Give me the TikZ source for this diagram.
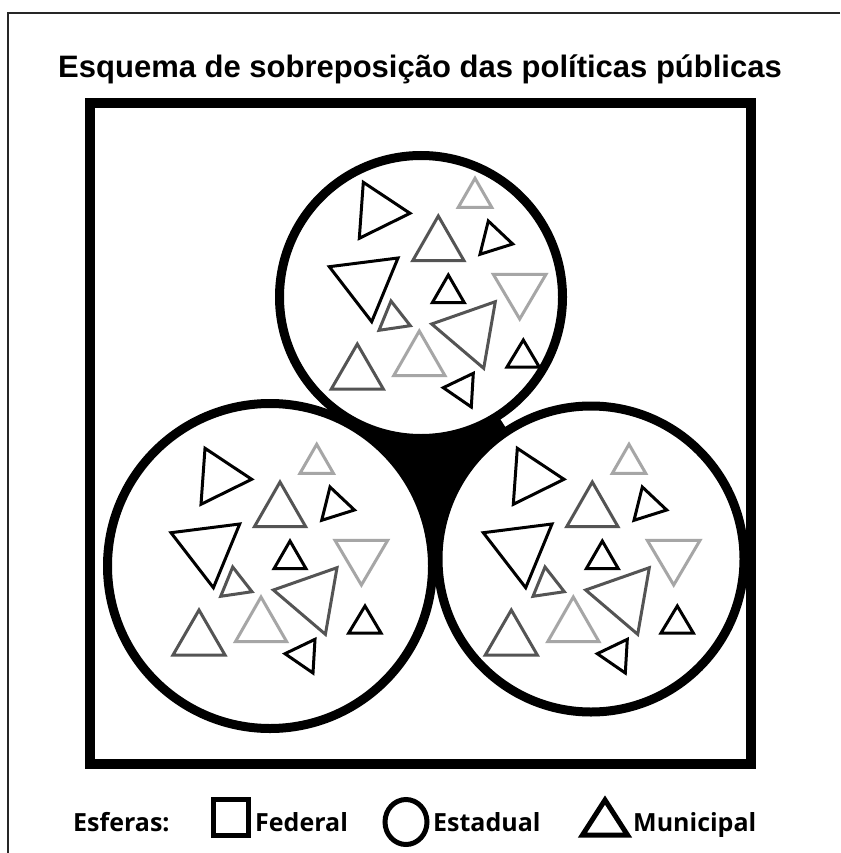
\documentclass[tikz,border=0pt]{standalone}
\usepackage{fontspec}
\newfontfamily\titlefont{Liberation Sans}[BoldFont={Liberation Sans Bold}]
\newfontfamily\legfont{Open Sans}[BoldFont={Open Sans Bold}]
\begin{document}
\begin{tikzpicture}[x=1pt,y=-1pt,
  tb/.style={draw=black,line width=3pt,line join=miter},
  td/.style={draw=black!67,line width=3pt,line join=miter},
  tl/.style={draw=black!35,line width=3pt,line join=miter},
  bigring/.style={draw=black,line width=9pt},
  legsym/.style={draw=black,line width=5pt,line join=miter},
  legtext/.style={anchor=base west,inner sep=0pt,font=\legfont\bfseries\fontsize{25}{30}\selectfont}]
\useasboundingbox (0,0) rectangle (840,853);
\fill[white] (0,0) rectangle (840,853);
% outer thin frame
\draw[line width=1.5pt,black!85] (840,13) -- (8,13) -- (8,853);
% title
\node[anchor=base,inner sep=0pt,font=\titlefont\bfseries\fontsize{31}{36}\selectfont] (title) at (420,78) {Esquema de sobreposição das políticas públicas};
% thick square (Federal)
\draw[line width=10pt] (90,103) rectangle (751,764);
% gap between circles
\fill[black] (421,297) -- (270,566) -- (591,559) -- cycle;
\fill[white] (421,297) circle[radius=141.5pt];
\fill[white] (270,566) circle[radius=162.5pt];
\fill[white] (591,559) circle[radius=153pt];
\draw[bigring] (421,297) circle[radius=141.5pt];
\draw[bigring] (270,566) circle[radius=162.5pt];
\draw[bigring] (591,559) circle[radius=153pt];
% triangle pattern
\newcommand\mytrigroup{%
  \draw[tb] (363.3,182.3) -- (410,213.3) -- (359.3,238.3) -- cycle;
  \draw[tl] (475,178.3) -- (491.7,207.3) -- (458.3,207.3) -- cycle;
  \draw[td] (438.3,216) -- (464,260.7) -- (412.7,260.7) -- cycle;
  \draw[tb] (488.3,221) -- (512.7,244) -- (480,254.3) -- cycle;
  \draw[tb] (329.3,266.7) -- (398,258) -- (371.7,321.7) -- cycle;
  \draw[tb] (448.3,275) -- (464.3,302.7) -- (432.3,302.7) -- cycle;
  \draw[tl] (493.3,274.3) -- (546,274.3) -- (519.7,319) -- cycle;
  \draw[td] (391,301) -- (410.3,325.7) -- (379,330.3) -- cycle;
  \draw[td] (431.7,324) -- (495.3,301.7) -- (483.7,368.3) -- cycle;
  \draw[tb] (523.3,340) -- (539.3,367) -- (507,367) -- cycle;
  \draw[td] (357.3,344) -- (383.3,389) -- (331.3,389) -- cycle;
  \draw[tl] (419.3,331) -- (445,375.7) -- (393.7,375.7) -- cycle;
  \draw[tb] (473.3,373.3) -- (471.3,407) -- (443.3,387.7) -- cycle;
}
\mytrigroup
\begin{scope}[shift={(-158.3,266)}]\mytrigroup\end{scope}
\begin{scope}[shift={(154,266)}]\mytrigroup\end{scope}
% legend
\node[legtext] (esf) at (73,831) {Esferas:};
\draw[legsym] (213.5,799.5) rectangle (248.5,835.5);
\node[legtext] (fed) at (255,831) {Federal};
\draw[legsym] (406,822) ellipse[x radius=21pt,y radius=22.5pt];
\node[legtext] (est) at (433,831) {Estadual};
\draw[legsym] (605,800) -- (627.5,835) -- (582.5,835) -- cycle;
\node[legtext] (mun) at (633,831) {Municipal};
\end{tikzpicture}
\end{document}
